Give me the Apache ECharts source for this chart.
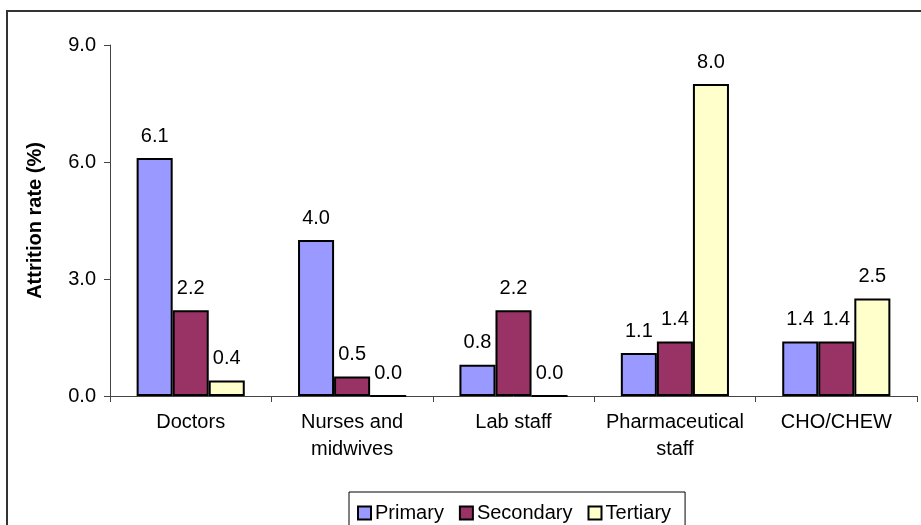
<!DOCTYPE html>
<html>
<head>
<meta charset="utf-8">
<script src="https://cdn.jsdelivr.net/npm/echarts@6/dist/echarts.min.js"></script>
<style>
  html, body { margin: 0; padding: 0; background: #fff; }
  #frame {
    position: absolute; left: 6px; top: 10px; width: 915px; height: 515px;
    border-left: 2px solid #333; border-top: 2px solid #333;
  }
  #chart { position: absolute; left: 0; top: 0; width: 921px; height: 525px; }
</style>
</head>
<body>
<div id="frame"></div>
<div id="chart"></div>
<script>
const categories = ['Doctors', 'Nurses and\nmidwives', 'Lab staff', 'Pharmaceutical\nstaff', 'CHO/CHEW'];
const primary = [6.1, 4.0, 0.8, 1.1, 1.4];
const secondary = [2.2, 0.5, 2.2, 1.4, 1.4];
const tertiary = [0.4, 0.0, 0.0, 8.0, 2.5];

const font = 'Liberation Sans, Arial, sans-serif';

function barSeries(name, data, color) {
  return {
    name: name,
    type: 'bar',
    data: data,
    barGap: '0%',
    barCategoryGap: '33%',
    itemStyle: { color: color, borderColor: '#000', borderWidth: 2 },
    label: {
      show: true,
      position: 'top',
      distance: 12,
      color: '#000',
      fontFamily: font,
      fontSize: 20,
      formatter: p => p.value.toFixed(1)
    }
  };
}

const chart = echarts.init(document.getElementById('chart'), null, { renderer: 'canvas' });
chart.setOption({
  animation: false,
  textStyle: { fontFamily: font },
  grid: { left: 110, right: 4, top: 45, bottom: 129 },
  legend: {
    left: 349,
    top: 492,
    itemWidth: 13,
    itemHeight: 13,
    itemGap: 15,
    padding: [11, 14, 10, 8],
    borderColor: '#000',
    borderWidth: 1,
    icon: 'rect',
    textStyle: { fontFamily: font, fontSize: 20, color: '#000', padding: [0, 0, 0, -1] },
    itemStyle: { borderColor: '#000', borderWidth: 2 },
    data: ['Primary', 'Secondary', 'Tertiary']
  },
  xAxis: {
    type: 'category',
    data: categories,
    axisLine: { lineStyle: { color: '#444', width: 1 } },
    axisTick: { show: true, length: 6, lineStyle: { color: '#444' } },
    axisLabel: {
      color: '#000', fontFamily: font, fontSize: 20, lineHeight: 27, margin: 13, interval: 0
    }
  },
  yAxis: {
    type: 'value',
    min: 0,
    max: 9,
    interval: 3,
    name: 'Attrition rate (%)',
    nameLocation: 'middle',
    nameGap: 65,
    nameTextStyle: { fontFamily: font, fontSize: 20, fontWeight: 'bold', color: '#000' },
    splitLine: { show: false },
    axisLine: { show: true, lineStyle: { color: '#444', width: 1 } },
    axisTick: { show: true, length: 6, lineStyle: { color: '#444' } },
    axisLabel: {
      color: '#000', fontFamily: font, fontSize: 20, margin: 14,
      formatter: v => v.toFixed(1)
    }
  },
  series: [
    barSeries('Primary', primary, '#9999FF'),
    barSeries('Secondary', secondary, '#993366'),
    barSeries('Tertiary', tertiary, '#FFFFCC')
  ]
});
</script>
</body>
</html>
